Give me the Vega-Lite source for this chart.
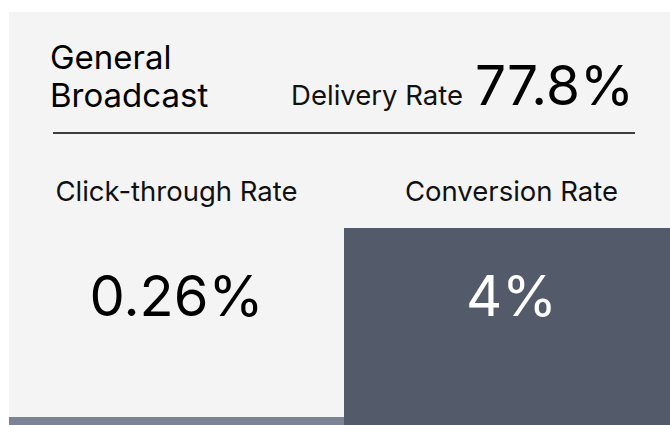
{
  "$schema": "https://vega.github.io/schema/vega-lite/v6.json",
  "width": 670,
  "height": 425,
  "autosize": {"type": "fit", "contains": "padding"},
  "padding": {"left": 9, "top": 12, "right": 0, "bottom": 0},
  "background": "#ffffff",
  "config": {"view": {"stroke": null}, "font": "Inter"},
  "datasets": {
    "kpis": [
      {"metric": "Click-through Rate", "value": 0.0026, "label": "0.26%", "selected": false},
      {"metric": "Conversion Rate", "value": 0.04, "label": "4%", "selected": true}
    ],
    "header": [
      {"campaign": "General Broadcast", "metric": "Delivery Rate", "value": 0.778, "label": "77.8%"}
    ]
  },
  "layer": [
    {
      "data": {"name": "header"},
      "mark": {"type": "rect", "x": 0, "x2": {"expr": "width"}, "y": 0, "y2": {"expr": "height"}, "color": "#f4f4f4"},
      "encoding": {}
    },
    {
      "data": {"name": "kpis"},
      "encoding": {
        "x": {
          "field": "metric",
          "type": "nominal",
          "scale": {"type": "band", "domain": ["Click-through Rate", "Conversion Rate"], "range": [0, 670], "paddingInner": 0, "paddingOuter": 0},
          "axis": null
        }
      },
      "layer": [
        {
          "transform": [{"filter": "datum.selected"}],
          "mark": {"type": "rect", "y": 216, "y2": {"expr": "height"}, "color": "#535a6a"},
          "encoding": {"x": {"field": "metric", "type": "nominal", "bandPosition": 0}, "x2": {"field": "metric", "bandPosition": 1}}
        },
        {
          "transform": [{"filter": "!datum.selected"}],
          "mark": {"type": "rect", "y": {"expr": "height-8"}, "y2": {"expr": "height"}, "color": "#7b8496"},
          "encoding": {"x": {"field": "metric", "type": "nominal", "bandPosition": 0}, "x2": {"field": "metric", "bandPosition": 1}}
        },
        {
          "mark": {"type": "text", "y": 189, "baseline": "alphabetic", "align": "center", "fontSize": 27.5, "color": "#111111"},
          "encoding": {"text": {"field": "metric"}}
        },
        {
          "mark": {"type": "text", "y": 304, "baseline": "alphabetic", "align": "center", "fontSize": 56},
          "encoding": {
            "text": {"field": "label"},
            "color": {"condition": {"test": "datum.selected", "value": "#ffffff"}, "value": "#000000"}
          }
        }
      ]
    },
    {
      "data": {"name": "header"},
      "transform": [{"calculate": "split(datum.campaign, ' ')", "as": "campaign_lines"}],
      "mark": {"type": "text", "x": 41, "y": 57, "baseline": "alphabetic", "align": "left", "fontSize": 33, "lineHeight": 38, "color": "#000000"},
      "encoding": {"text": {"field": "campaign_lines"}}
    },
    {
      "data": {"name": "header"},
      "mark": {"type": "text", "x": 454, "y": 93, "baseline": "alphabetic", "align": "right", "fontSize": 27.5, "color": "#111111"},
      "encoding": {"text": {"field": "metric"}}
    },
    {
      "data": {"name": "header"},
      "mark": {"type": "text", "x": 625, "y": 93, "baseline": "alphabetic", "align": "right", "fontSize": 55, "color": "#000000"},
      "encoding": {"text": {"field": "label"}}
    },
    {
      "data": {"name": "header"},
      "mark": {"type": "rect", "x": 44, "x2": 626, "y": 120.3, "y2": 121.7, "color": "#000000"},
      "encoding": {}
    }
  ]
}
